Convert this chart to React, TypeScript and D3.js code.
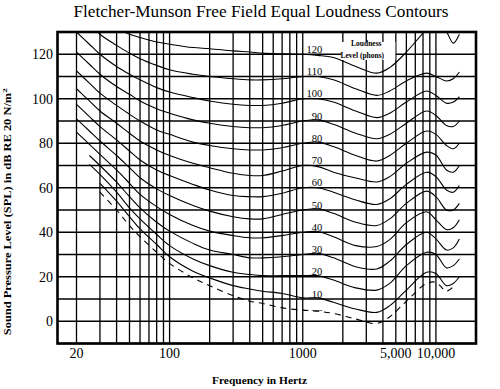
import * as d3 from 'd3'

const freqs = [20, 25, 30, 40, 50, 60, 80, 100, 150, 200, 300, 400, 500, 700, 1000, 1300, 1700, 2500, 3600, 4500, 6000, 8500, 10000, 12000, 13500, 15000]

// SPL (dB) for each loudness level, null where the curve is not drawn
const phon120 = [147, 141, 136, 131.5, 129, 127.5, 125.5, 124.5, 123, 122.5, 121.5, 121, 120.5, 120.2, 120, 119.5, 118.5, 114.5, 111.5, 114, 121, 131, 134, 130, 125, 129]
const phon110 = [139, 134, 129, 124, 120.5, 118, 115, 113, 111, 110, 109, 108.5, 108.5, 109, 110, 110, 108.5, 104.5, 101.5, 103.5, 108, 111.5, 110, 108, 109, 112]
const phon100 = [130, 124.5, 120, 114.5, 111, 108.5, 105, 103, 100.5, 99, 97.5, 97, 97, 98, 100, 100, 98.5, 94.5, 91.5, 93.5, 98.5, 103.5, 101.5, 98, 98.5, 101]
const phon90 = [121, 115.5, 111, 105.5, 102, 99, 95.5, 93.5, 90.5, 89, 87.5, 87, 87, 88, 90, 90.5, 88.5, 84.5, 82, 84, 89, 94.5, 92.5, 88, 87.5, 90]
const phon80 = [112.5, 107, 102.5, 97, 93, 90, 86, 84, 80.5, 79, 77.5, 77, 77, 78, 80, 80.5, 78.5, 74.5, 72, 74.5, 80, 85.5, 84, 79, 77.5, 80]
const phon70 = [104.5, 99, 94.5, 89, 84.5, 81, 77, 74.5, 71, 69, 66.5, 65.5, 65.5, 67.5, 70, 69.5, 67, 64.4, 62.6, 65, 71, 76, 74.7, 68, 67, 70]
const phon60 = [97.5, 92, 87.5, 81.5, 76.5, 72.5, 68, 65.5, 61.5, 59, 56.5, 56, 56, 57.5, 60, 60, 58, 54.5, 52.5, 55, 61.5, 67, 65, 59, 58, 61]
const phon50 = [91, 85.5, 81, 74.5, 69, 64.5, 59.5, 56.5, 52, 49.5, 47, 46, 46, 48, 50, 50.5, 48.5, 44.5, 43, 46, 53, 58.5, 56, 50, 50, 53]
const phon40 = [85, 79.5, 75, 68, 62, 57, 51.5, 48, 43, 40.5, 38.5, 37.5, 37.5, 38.5, 40, 40.3, 38, 34, 33.6, 36.7, 44.3, 49.2, 45.6, 41.2, 42, 45.6]
const phon30 = [null, 74.5, 70, 62.5, 56, 51, 44.5, 40.5, 35, 32, 30, 28.5, 28.5, 29, 30, 30.5, 28.5, 24.5, 23.5, 27, 34.5, 40, 37, 32, 33, 37]
const phon20 = [null, 70.5, 66, 58, 51, 46, 39, 34, 28, 25, 22, 21, 20.5, 20.5, 20.5, 20.5, 18.5, 15, 14, 17, 25, 31, 30, 24, 25, 28]
const phon10 = [null, null, 62, 54, 47, 41.5, 34.5, 29, 22.5, 19.5, 16, 14.5, 13.5, 12.5, 10.5, 10.5, 8.5, 5.5, 4, 7, 14, 22, 21.5, 16, 17, 20]
const threshold = [null, null, 58, 50, 43, 38, 31, 26, 19.5, 16, 11.5, 9, 8, 6, 5, 4.5, 3.5, 1, -1, 2, 9, 17, 17.5, 13.5, 15.5, null]

const levels = [120, 110, 100, 90, 80, 70, 60, 50, 40, 30, 20, 10]
const curves = [phon120, phon110, phon100, phon90, phon80, phon70, phon60, phon50, phon40, phon30, phon20, phon10]

const yTicks = [0, 20, 40, 60, 80, 100, 120]
const xTickLabels = [
  { f: 20, label: '20' },
  { f: 100, label: '100' },
  { f: 1000, label: '1000' },
  { f: 5000, label: '5,000' },
  { f: 10000, label: '10,000' },
]

const W = 500
const H = 389
const left = 57.5
const right = 476
const top = 32
const bottom = 343.5

const serif = '"Liberation Serif", "Times New Roman", serif'

export default function App() {
  const x = d3.scaleLog().domain([14.4, 20000]).range([left, right])
  const y = d3.scaleLinear().domain([-10, 130]).range([bottom, top])

  const hGrid = d3.range(-10, 131, 10)
  const vGrid = [
    ...d3.range(20, 100, 10),
    ...d3.range(100, 1000, 100),
    ...d3.range(1000, 10000, 1000),
    10000,
  ]

  const line = d3
    .line<[number, number | null]>()
    .defined((d) => d[1] !== null)
    .x((d) => x(d[0]))
    .y((d) => y(d[1] as number))
    .curve(d3.curveCatmullRom.alpha(0.5))

  const toPts = (vals: (number | null)[]) => freqs.map((f, i) => [f, vals[i]] as [number, number | null])

  return (
    <svg width={W} height={H} style={{ position: 'absolute', left: 0, top: 0, background: '#fff' }}>
      <defs>
        <clipPath id="plot">
          <rect x={left} y={top} width={right - left} height={bottom - top} />
        </clipPath>
      </defs>

      <text x={261} y={17} textAnchor="middle" fontFamily={serif} fontSize={17} textLength={375} lengthAdjust="spacingAndGlyphs">
        Fletcher-Munson Free Field Equal Loudness Contours
      </text>

      {/* grid */}
      {hGrid.map((v) => (
        <line key={'h' + v} x1={left} x2={right} y1={y(v)} y2={y(v)} stroke="#000" strokeWidth={1.4} />
      ))}
      {vGrid.map((f) => (
        <line key={'v' + f} x1={x(f)} x2={x(f)} y1={top} y2={bottom} stroke="#000" strokeWidth={1.3} />
      ))}

      {/* contours */}
      <g clipPath="url(#plot)" fill="none" stroke="#000">
        {curves.map((c, i) => (
          <path key={levels[i]} d={line(toPts(c)) || ''} strokeWidth={1.1} />
        ))}
        <path d={line(toPts(threshold)) || ''} strokeWidth={1.1} strokeDasharray="6,5" />
      </g>

      {/* phon labels */}
      {levels.map((lv) => (
        <text key={'l' + lv} x={x(1400)} y={y(lv) - 1.5} textAnchor="end" fontFamily={serif} fontSize={10.5}>
          {lv}
        </text>
      ))}
      <text x={x(1400)} y={y(5) + 3} textAnchor="end" fontFamily={serif} fontSize={10.5}>
        —
      </text>

      {/* legend */}
      <rect x={x(1950)} y={y(125.5)} width={54} height={18} fill="#fff" />
      <text x={x(3000)} y={y(123.5)} textAnchor="middle" fontFamily={serif} fontSize={7.5} fontWeight="bold">
        Loudness
      </text>
      <text x={x(2800)} y={y(118.2)} textAnchor="middle" fontFamily={serif} fontSize={7.5} fontWeight="bold">
        Level (phons)
      </text>

      {/* frame */}
      <rect x={left} y={top} width={right - left} height={bottom - top} fill="none" stroke="#000" strokeWidth={2.6} />

      {/* y axis labels */}
      {yTicks.map((v) => (
        <text key={'y' + v} x={53} y={y(v)} dy="0.35em" textAnchor="end" fontFamily={serif} fontSize={14}>
          {v}
        </text>
      ))}
      <text
        transform={`translate(11,${(top + bottom) / 2 + 24}) rotate(-90)`}
        textAnchor="middle"
        fontFamily={serif}
        fontSize={9.5}
        fontWeight="bold"
        textLength={247}
        lengthAdjust="spacingAndGlyphs"
      >
        Sound Pressure Level (SPL) in dB RE 20 N/m<tspan dy={-4} fontSize={7}>2</tspan>
      </text>

      {/* x axis labels */}
      {xTickLabels.map((t) => (
        <text key={'x' + t.f} x={x(t.f)} y={358} textAnchor="middle" fontFamily={serif} fontSize={14}>
          {t.label}
        </text>
      ))}
      <text x={259.5} y={384} textAnchor="middle" fontFamily={serif} fontSize={10.5} fontWeight="bold" textLength={95} lengthAdjust="spacingAndGlyphs">
        Frequency in Hertz
      </text>
    </svg>
  )
}
